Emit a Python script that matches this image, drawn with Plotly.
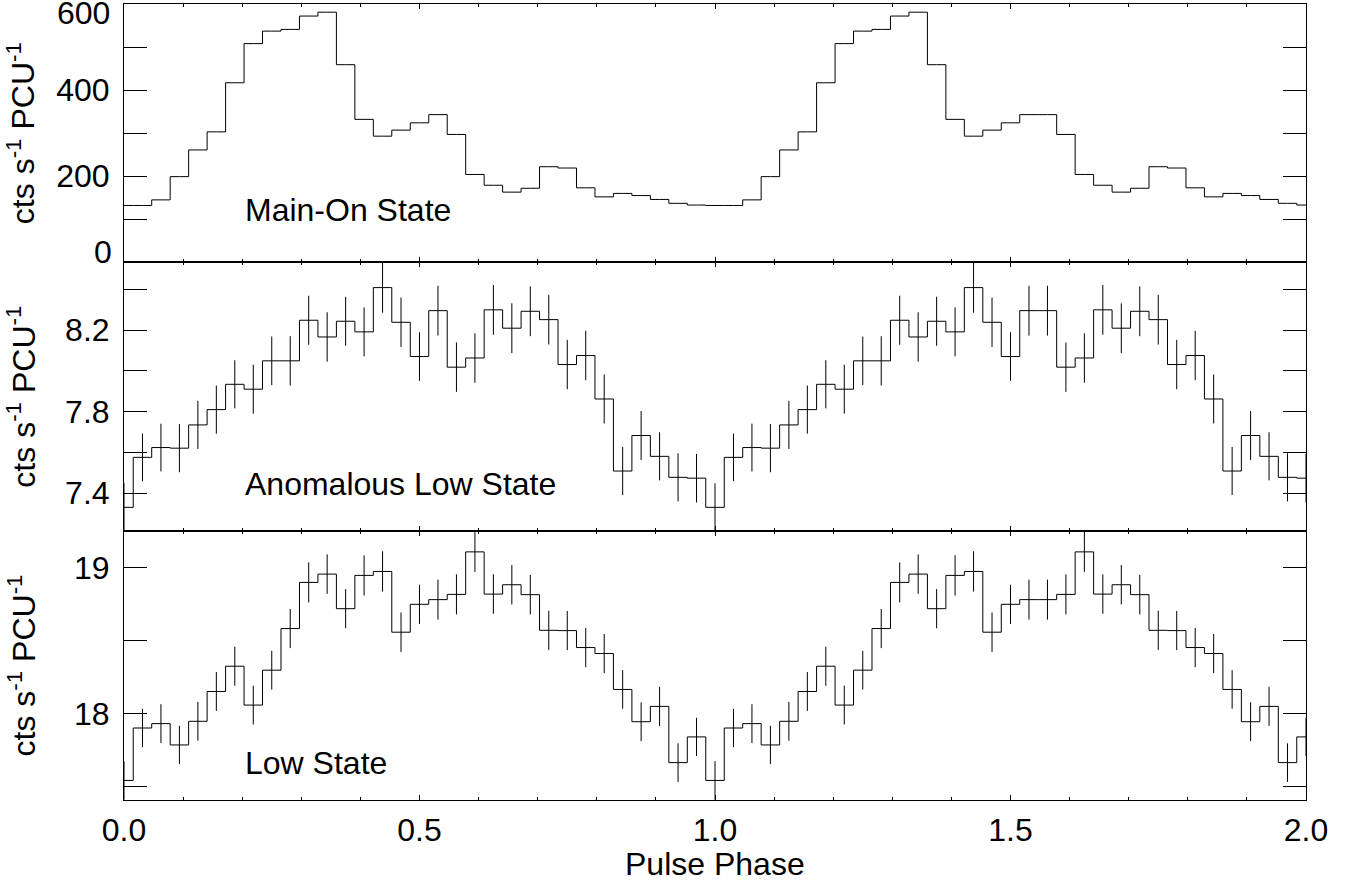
import numpy as np
import plotly.graph_objects as go

# ---------------- data ----------------
# bin centres: 32 bins per pulse cycle, two cycles shown (0..2)
phase = np.arange(65) / 32.0

# Main-On state (cts/s/PCU): bins k = 0..32, then k = 33..64
top_c1 = [132, 132, 145, 199, 261, 303, 417, 508, 537, 541, 572, 581, 459, 332,
          293, 307, 324, 343, 297, 204, 179, 163, 172, 222, 219, 173, 152, 160,
          155, 146, 137, 133, 132]
top_c2 = [132, 145, 199, 261, 303, 417, 508, 537, 541, 572, 581, 459, 332, 293,
          307, 324, 343, 343, 297, 204, 179, 163, 172, 222, 219, 173, 152, 160,
          155, 146, 137, 133]

# Anomalous Low state
mid_c1 = [7.331, 7.576, 7.624, 7.621, 7.735, 7.810, 7.934, 7.910, 8.049, 8.049,
          8.248, 8.166, 8.243, 8.191, 8.408, 8.238, 8.070, 8.295, 8.018, 8.063,
          8.299, 8.209, 8.292, 8.251, 8.031, 8.075, 7.862, 7.509, 7.683, 7.581,
          7.478, 7.474, 7.331]
mid_c2 = [7.576, 7.624, 7.621, 7.735, 7.810, 7.934, 7.910, 8.049, 8.049, 8.248,
          8.166, 8.243, 8.191, 8.408, 8.238, 8.070, 8.295, 8.295, 8.018, 8.063,
          8.299, 8.209, 8.292, 8.251, 8.031, 8.075, 7.862, 7.509, 7.683, 7.581,
          7.478, 7.474]
mid_err_c1 = [0.118, 0.117, 0.117, 0.118, 0.118, 0.118, 0.118, 0.120, 0.119, 0.121,
              0.120, 0.121, 0.120, 0.120, 0.123, 0.121, 0.119, 0.122, 0.121, 0.121,
              0.122, 0.122, 0.122, 0.122, 0.121, 0.121, 0.120, 0.118, 0.120, 0.118,
              0.118, 0.119, 0.118]
mid_err_c2 = [0.117, 0.117, 0.118, 0.118, 0.118, 0.118, 0.120, 0.119, 0.121, 0.120,
              0.121, 0.120, 0.120, 0.123, 0.121, 0.119, 0.122, 0.122, 0.121, 0.121,
              0.122, 0.122, 0.122, 0.122, 0.121, 0.121, 0.120, 0.118, 0.120, 0.118,
              0.118, 0.119]

# Low state
low_c1 = [17.543, 17.902, 17.932, 17.786, 17.948, 18.152, 18.325, 18.059, 18.298,
          18.583, 18.899, 18.956, 18.719, 18.947, 18.974, 18.558, 18.749, 18.781,
          18.817, 19.108, 18.819, 18.883, 18.815, 18.571, 18.569, 18.453, 18.412,
          18.166, 17.945, 18.050, 17.665, 17.841, 17.543]
low_c2 = [17.902, 17.932, 17.786, 17.948, 18.152, 18.325, 18.059, 18.298, 18.583,
          18.899, 18.956, 18.719, 18.947, 18.974, 18.558, 18.749, 18.781, 18.781,
          18.817, 19.108, 18.819, 18.883, 18.815, 18.571, 18.569, 18.453, 18.412,
          18.166, 17.945, 18.050, 17.665, 17.841]
low_err_c1 = [0.132, 0.131, 0.133, 0.131, 0.133, 0.133, 0.134, 0.133, 0.133, 0.134,
              0.137, 0.135, 0.134, 0.138, 0.138, 0.135, 0.134, 0.137, 0.137, 0.137,
              0.135, 0.135, 0.135, 0.134, 0.134, 0.134, 0.134, 0.132, 0.133, 0.134,
              0.132, 0.131, 0.132]
low_err_c2 = [0.131, 0.133, 0.131, 0.133, 0.133, 0.134, 0.133, 0.133, 0.134, 0.137,
              0.135, 0.134, 0.138, 0.138, 0.135, 0.134, 0.137, 0.137, 0.137, 0.137,
              0.135, 0.135, 0.135, 0.134, 0.134, 0.134, 0.134, 0.132, 0.133, 0.134,
              0.132, 0.131]

top_rate = top_c1 + top_c2
mid_rate = mid_c1 + mid_c2
mid_err = mid_err_c1 + mid_err_c2
low_rate = low_c1 + low_c2
low_err = low_err_c1 + low_err_c2

state_labels = ["Main-On State", "Anomalous Low State", "Low State"]
ytitle = "cts s<sup>-1</sup> PCU<sup>-1</sup>"

# ---------------- figure ----------------
W, H = 1352, 882
ML, MR, MT, MB = 124, 46, 4, 82
PW, PH = W - ML - MR, H - MT - MB
FONT = "Liberation Sans, Arial, Helvetica, sans-serif"
FS = 32


def px_x(px):
    return (px - ML) / PW


def px_y(py):
    return (H - MB - py) / PH


# panel borders (pixel rows)
top_y0, b1, b2, bot_y1 = 4, 262.3, 531, 800
dom_top = [px_y(b1), 1]
dom_mid = [px_y(b2), px_y(b1)]
dom_low = [0, px_y(b2)]

fig = go.Figure()
line = dict(shape="hvh", color="black", width=1)

fig.add_trace(go.Scatter(x=phase, y=top_rate, mode="lines", line=line,
                         xaxis="x3", yaxis="y3", showlegend=False))
fig.add_trace(go.Scatter(x=phase, y=mid_rate, mode="lines", line=line,
                         error_y=dict(type="data", array=mid_err, visible=True,
                                      color="black", thickness=1, width=0),
                         xaxis="x2", yaxis="y2", showlegend=False))
fig.add_trace(go.Scatter(x=phase, y=low_rate, mode="lines", line=line,
                         error_y=dict(type="data", array=low_err, visible=True,
                                      color="black", thickness=1, width=0),
                         xaxis="x", yaxis="y", showlegend=False))

xcommon = dict(range=[0, 2], showline=True, linecolor="black", linewidth=1,
               mirror="ticks", ticks="inside", ticklen=5, tickwidth=1,
               tickcolor="black", tick0=0, dtick=0.5,
               minor=dict(dtick=0.1, ticks="inside", ticklen=3,
                          tickcolor="black", tickwidth=1),
               showgrid=False, zeroline=False)
ycommon = dict(showline=True, linecolor="black", linewidth=1, mirror="ticks",
               ticks="inside", ticklen=23, tickwidth=1, tickcolor="black",
               showgrid=False, zeroline=False, ticklabelstandoff=7)

fig.update_layout(
    width=W, height=H,
    margin=dict(l=ML, r=MR, t=MT, b=MB),
    paper_bgcolor="white", plot_bgcolor="white",
    font=dict(family=FONT, size=FS, color="black"),
    xaxis=dict(xcommon, anchor="y", showticklabels=True, tickformat=".1f",
               ticklabelstandoff=2),
    xaxis2=dict(xcommon, anchor="y2", matches="x", showticklabels=False),
    xaxis3=dict(xcommon, anchor="y3", matches="x", showticklabels=False),
    yaxis=dict(ycommon, domain=dom_low, range=[17.409, 19.251],
               tickvals=[17.5, 18, 18.5, 19], ticktext=["", "18", "", "19"]),
    yaxis2=dict(ycommon, domain=dom_mid, range=[7.215, 8.532],
                tickvals=[7.4, 7.6, 7.8, 8.0, 8.2, 8.4],
                ticktext=["7.4", "", "7.8", "", "8.2", ""]),
    yaxis3=dict(ycommon, domain=dom_top, range=[0, 600],
                tickvals=[0, 100, 200, 300, 400, 500, 600],
                ticktext=["", "", "200", "", "400", "", ""]),
)

ann = []
# shifted end labels of the top panel (as drawn in the original)
ann.append(dict(text="600", x=px_x(112), y=px_y(13), xref="paper", yref="paper",
                xanchor="right", yanchor="middle", showarrow=False))
ann.append(dict(text="0", x=px_x(114), y=px_y(252), xref="paper", yref="paper",
                xanchor="right", yanchor="middle", showarrow=False))
# y titles
for cy in [(top_y0 + b1) / 2, (b1 + b2) / 2, (b2 + bot_y1) / 2]:
    ann.append(dict(text=ytitle, x=px_x(21), y=px_y(cy), xref="paper", yref="paper",
                    xanchor="center", yanchor="middle", textangle=-90,
                    showarrow=False))
# panel labels (baseline pixel rows)
for lab, base in zip(state_labels, [220.7, 494.3, 773.3]):
    ann.append(dict(text=lab, x=px_x(242.5), y=px_y(base - 0.33 * FS),
                    xref="paper", yref="paper", xanchor="left", yanchor="middle",
                    showarrow=False))
# x title
ann.append(dict(text="Pulse Phase", x=0.5, y=px_y(864), xref="paper", yref="paper",
                xanchor="center", yanchor="middle", showarrow=False))
fig.update_layout(annotations=ann)

fig.write_html("out.html")
